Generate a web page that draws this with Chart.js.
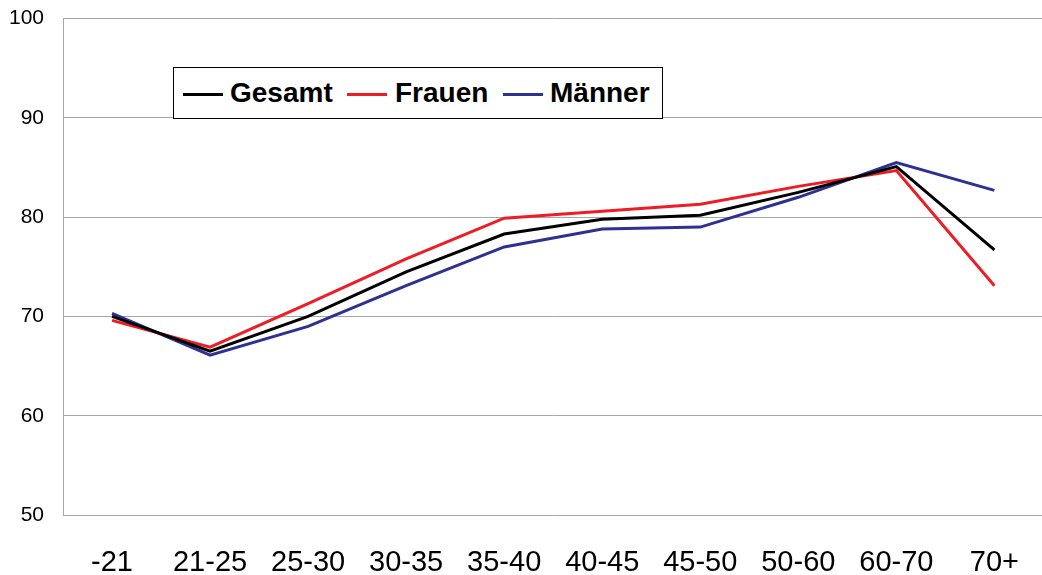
<!DOCTYPE html>
<html>
<head>
<meta charset="utf-8">
<script src="https://cdn.jsdelivr.net/npm/chart.js@4/dist/chart.umd.min.js"></script>
<style>
  html, body { margin: 0; padding: 0; background: #fff; overflow: hidden; }
  #wrap { position: relative; width: 1050px; height: 575px; overflow: hidden; }
  #c { position: absolute; left: 0; top: -13px; }
  #legend {
    position: absolute; left: 173px; top: 67px; width: 490px; height: 52px;
    border: 1.5px solid #000; box-sizing: border-box; background: #fff;
    font-family: "Liberation Sans", Arial, sans-serif; font-weight: bold; font-size: 28px;
  }
  .sw { position: absolute; width: 40px; height: 3px; top: 25px; }
  .tx { position: absolute; top: 9px; line-height: 32px; white-space: nowrap; }
</style>
</head>
<body>
<div id="wrap">
  <canvas id="c" width="1050" height="588"></canvas>
  <div id="legend"></div>
</div>
<script>
const categories = ["-21", "21-25", "25-30", "30-35", "35-40", "40-45", "45-50", "50-60", "60-70", "70+"];
const seriesNames = ["Gesamt", "Frauen", "Männer"];
const gesamt = [70.0, 66.5, 70.0, 74.5, 78.3, 79.8, 80.2, 82.5, 85.1, 76.7];
const frauen = [69.6, 66.9, 71.3, 75.8, 79.9, 80.6, 81.3, 83.1, 84.7, 73.1];
const maenner = [70.3, 66.1, 69.0, 73.1, 77.0, 78.8, 79.0, 82.0, 85.5, 82.7];
const yTicks = [50, 60, 70, 80, 90, 100];
const colors = ["#000000", "#ee1c25", "#2e3192"];

const seriesData = [gesamt, frauen, maenner];

const legend = document.getElementById('legend');
const swX = [9, 173, 329];
const txX = [56, 221, 376];
seriesNames.forEach((n, i) => {
  const sw = document.createElement('span');
  sw.className = 'sw';
  sw.style.left = swX[i] + 'px';
  sw.style.background = colors[i];
  const t = document.createElement('span');
  t.className = 'tx';
  t.style.left = txX[i] + 'px';
  t.textContent = n;
  legend.appendChild(sw); legend.appendChild(t);
});

new Chart(document.getElementById('c'), {
  type: 'line',
  data: {
    labels: categories,
    datasets: seriesNames.map((n, i) => ({
      label: n,
      data: seriesData[i],
      borderColor: colors[i],
      backgroundColor: colors[i],
      borderWidth: 3,
      pointRadius: 0,
      tension: 0,
      fill: false
    }))
  },
  options: {
    responsive: false,
    animation: false,
    layout: { padding: { top: 5, right: 0, bottom: 0, left: 0 } },
    plugins: { legend: { display: false }, tooltip: { enabled: false } },
    scales: {
      x: {
        type: 'category',
        offset: true,
        grid: { display: false, drawTicks: false },
        border: { display: false },
        ticks: {
          color: '#000',
          padding: 31,
          maxRotation: 0,
          autoSkip: false,
          font: { family: '"Liberation Sans", Arial, sans-serif', size: 29 }
        },
        afterFit: s => { s.height = 60; }
      },
      y: {
        min: 50, max: 100,
        afterBuildTicks: s => { s.ticks = yTicks.map(v => ({ value: v })); },
        grid: { color: '#a6a6a6', lineWidth: 1, drawTicks: false },
        border: { display: true, color: '#a6a6a6', width: 1 },
        ticks: {
          color: '#000',
          padding: 19,
          font: { family: '"Liberation Sans", Arial, sans-serif', size: 21 }
        },
        afterFit: s => { s.width = 63; }
      }
    }
  }
});
</script>
</body>
</html>
